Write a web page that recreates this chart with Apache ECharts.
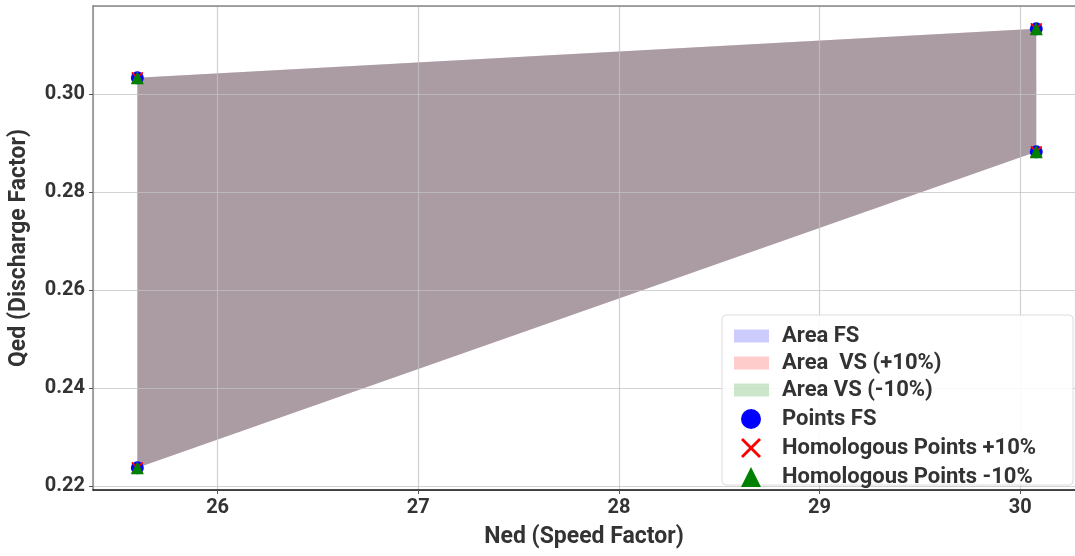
<!DOCTYPE html>
<html>
<head>
<meta charset="utf-8">
<script src="https://cdn.jsdelivr.net/npm/echarts@6/dist/echarts.min.js"></script>
<style>
  html, body { margin: 0; padding: 0; background: #fff; }
  #chart { width: 1075px; height: 556px; }
</style>
</head>
<body>
<div id="chart"></div>
<script>
// Operating envelope vertices: top-left, top-right, bottom-right, bottom-left
const nedFS = [25.60, 30.08, 30.08, 25.60];
const qedFS = [0.3033, 0.3133, 0.2882, 0.2237];
const nedPlus10 = [25.60, 30.08, 30.08, 25.60];
const qedPlus10 = [0.3033, 0.3133, 0.2882, 0.2237];
const nedMinus10 = [25.60, 30.08, 30.08, 25.60];
const qedMinus10 = [0.3033, 0.3133, 0.2882, 0.2237];

const areaNames = ['Area FS', 'Area  VS (+10%)', 'Area VS (-10%)'];
const pointNames = ['Points FS', 'Homologous Points +10%', 'Homologous Points -10%'];

const FONT = 'Roboto';
const WEIGHT = 'bold';
const crossPath = 'path://M2,0 L10,8 L18,0 L20,2 L12,10 L20,18 L18,20 L10,12 L2,20 L0,18 L8,10 L0,2 Z';

const X_MIN = 25.379, X_MAX = 30.273;

function pairs(xs, ys) {
  return xs.map((x, i) => [x, ys[i]]);
}

function areaSeries(name, xs, ys, color) {
  return {
    type: 'custom',
    name: name,
    data: pairs(xs, ys),
    clip: true,
    z: 2,
    itemStyle: { color: color, opacity: 0.2 },
    renderItem: function (params, api) {
      if (params.dataIndex !== 0) return;
      const pts = xs.map((x, i) => api.coord([x, ys[i]]));
      return {
        type: 'polygon',
        shape: { points: pts },
        style: { fill: color, opacity: 0.2 }
      };
    }
  };
}

function pointSeries(name, xs, ys, symbol, color, size, z) {
  return {
    type: 'scatter',
    name: name,
    data: pairs(xs, ys),
    symbol: symbol,
    symbolSize: size,
    itemStyle: { color: color, opacity: 1 },
    z: z
  };
}

const chart = echarts.init(document.getElementById('chart'));

const gridLine = { show: true, lineStyle: { color: 'rgba(195,195,195,0.75)', width: 1.2 } };

const option = {
  animation: false,
  backgroundColor: '#fff',
  textStyle: { fontFamily: FONT },
  grid: { left: 90, top: 6, right: 0, bottom: 66 },
  xAxis: [{
    type: 'value',
    z: 3,
    min: X_MIN, max: X_MAX,
    splitNumber: 5,
    name: 'Ned (Speed Factor)',
    nameLocation: 'middle',
    nameGap: 36,
    nameTextStyle: { fontFamily: FONT, fontWeight: WEIGHT, fontSize: 23, color: '#333' },
    axisLine: { show: true, lineStyle: { color: '#111', width: 1.5 } },
    axisTick: { show: true, length: 4, lineStyle: { color: '#555' } },
    axisLabel: {
      showMinLabel: false, showMaxLabel: false,
      fontFamily: FONT, fontWeight: WEIGHT, fontSize: 20, color: '#333', margin: 8
    },
    splitLine: gridLine
  }, {
    // top frame line only
    type: 'value',
    position: 'top',
    z: 3,
    min: X_MIN, max: X_MAX,
    axisLine: { show: true, lineStyle: { color: '#888', width: 1.5 } },
    axisTick: { show: false },
    axisLabel: { show: false },
    splitLine: { show: false }
  }],
  yAxis: {
    type: 'value',
    z: 3,
    min: 0.21918, max: 0.31796,
    splitNumber: 5,
    name: 'Qed (Discharge Factor)',
    nameLocation: 'middle',
    nameGap: 62,
    nameTextStyle: { fontFamily: FONT, fontWeight: WEIGHT, fontSize: 23, color: '#333' },
    axisLine: { show: true, lineStyle: { color: '#888', width: 1.5 } },
    axisTick: { show: true, length: 4, lineStyle: { color: '#555' } },
    axisLabel: {
      showMinLabel: false, showMaxLabel: false,
      fontFamily: FONT, fontWeight: WEIGHT, fontSize: 20, color: '#333', margin: 8,
      formatter: v => v.toFixed(2)
    },
    splitLine: gridLine
  },
  graphic: [{
    type: 'rect',
    z: 50,
    shape: { x: 722, y: 315, width: 351, height: 170, r: 4 },
    style: { fill: 'rgba(255,255,255,0.88)', stroke: '#dcdcdc', lineWidth: 1 }
  }],
  legend: [{
    z: 60,
    orient: 'vertical',
    left: 729, top: 320,
    itemWidth: 35, itemHeight: 13, itemGap: 5,
    textStyle: { fontFamily: FONT, fontWeight: WEIGHT, fontSize: 22, color: '#333', padding: [0, 0, 0, 8] },
    data: areaNames.map(n => ({ name: n, icon: 'rect' }))
  }, {
    z: 60,
    orient: 'vertical',
    left: 736, top: 403,
    itemWidth: 20, itemHeight: 20, itemGap: 7,
    textStyle: { fontFamily: FONT, fontWeight: WEIGHT, fontSize: 22, color: '#333', padding: [0, 0, 0, 16] },
    data: [
      { name: pointNames[0], icon: 'circle', itemStyle: { color: '#0000ff' } },
      { name: pointNames[1], icon: crossPath, itemStyle: { color: '#ff0000' } },
      { name: pointNames[2], icon: 'triangle', itemStyle: { color: '#008000' } }
    ]
  }],
  series: [
    areaSeries(areaNames[0], nedFS, qedFS, '#0000ff'),
    areaSeries(areaNames[1], nedPlus10, qedPlus10, '#ff0000'),
    areaSeries(areaNames[2], nedMinus10, qedMinus10, '#008000'),
    pointSeries(pointNames[0], nedFS, qedFS, 'circle', '#0000ff', 13, 5),
    pointSeries(pointNames[1], nedPlus10, qedPlus10, crossPath, '#ff0000', 12, 6),
    pointSeries(pointNames[2], nedMinus10, qedMinus10, 'triangle', '#008000', 13, 7)
  ]
};

chart.setOption(option);
</script>
</body>
</html>
